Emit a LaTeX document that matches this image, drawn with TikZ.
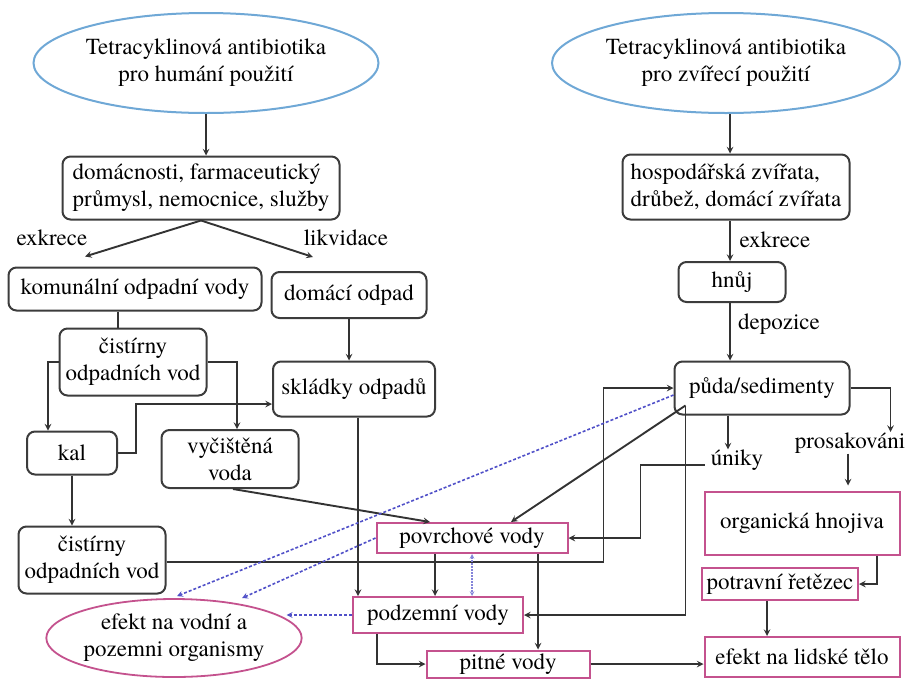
\documentclass[tikz,border=0pt]{standalone}
\usepackage{fontspec}
\setmainfont{texgyretermes-regular.otf}
\usepackage{tikz}
\usetikzlibrary{shapes.geometric}
\usepackage{xcolor}

\definecolor{boxgray}{HTML}{3C3C3C}
\definecolor{arrgray}{HTML}{333333}
\definecolor{pinkline}{HTML}{C4528E}
\definecolor{ellblue}{HTML}{6FA8D6}
\definecolor{dashblue}{HTML}{5050C8}

\begin{document}
\begin{tikzpicture}[x=1pt, y=-1pt, >=stealth,
    txt/.style={font=\rmfamily\fontsize{23}{27}\selectfont, inner sep=0pt, align=center},
    box/.style={txt, draw=boxgray, line width=2pt, rounded corners=8pt},
    pbox/.style={txt, draw=pinkline, line width=2pt},
    blueell/.style={txt, ellipse, draw=ellblue, line width=2pt},
    pinkell/.style={txt, ellipse, draw=pinkline, line width=1.8pt},
    arr/.style={->, line width=1.9pt, draw=arrgray},
    link/.style={line width=1.9pt, draw=arrgray},
    bluedash/.style={->, line width=1.6pt, draw=dashblue, dash pattern=on 3pt off 2pt}]

    \useasboundingbox (0,0) rectangle (909,678);

    % Sources
    \node[blueell, minimum width=345pt, minimum height=100pt] at (206,63) (hum) {Tetracyklinová antibiotika\\pro humání použití};
    \node[blueell, minimum width=348pt, minimum height=100pt] at (726,63) (ani) {Tetracyklinová antibiotika\\pro zvířecí použití};

    % Human use branch
    \node[box, align=left, minimum width=277pt, minimum height=63pt] at (201,188) (dom) {domácnosti, farmaceutický\\průmysl, nemocnice, služby};
    \node[txt] at (52,238) (exkr1) {exkrece};
    \node[txt] at (346,238) (likv) {likvidace};
    \node[box, minimum width=253pt, minimum height=43pt] at (135,289) (kom) {komunální odpadní vody};
    \node[box, minimum width=155pt, minimum height=46pt] at (349,295) (dompad) {domácí odpad};
    \node[box, minimum width=147pt, minimum height=67pt] at (133,362) (cist1) {čistírny\\odpadních vod};
    \node[box, minimum width=162pt, minimum height=55pt] at (354,389) (skl) {skládky odpadů};
    \node[box, minimum width=90pt, minimum height=43pt] at (72,453) (kal) {kal};
    \node[box, minimum width=137pt, minimum height=58pt] at (230,459) (vycist) {vyčištěná\\voda};
    \node[box, minimum width=147pt, minimum height=67pt] at (92,560) (cist2) {čistírny\\odpadních vod};

    % Animal use branch
    \node[box, align=left, minimum width=227pt, minimum height=65pt] at (736,187) (hosp) {hospodářská zvířata,\\drůbež, domácí zvířata};
    \node[txt] at (775,240) (exkr2) {exkrece};
    \node[box, minimum width=107pt, minimum height=40pt] at (732,282) (hnuj) {hnůj};
    \node[txt] at (779,324) (depoz) {depozice};
    \node[box, minimum width=175pt, minimum height=53pt] at (762,388) (puda) {půda/sedimenty};
    \node[txt] at (737,460) (unik) {úniky};
    \node[txt] at (850,443) (prosak) {prosakováni};
    \node[pbox, minimum width=195pt, minimum height=63pt] at (802,523) (org) {organická hnojiva};
    \node[pbox, minimum width=156pt, minimum height=32pt] at (780,584) (potr) {potravní řetězec};
    \node[pbox, minimum width=195pt, minimum height=40pt] at (802,657) (telo) {efekt na lidské tělo};

    % Waters and effects
    \node[pbox, minimum width=191pt, minimum height=30pt] at (472,538) (povrch) {povrchové vody};
    \node[pbox, minimum width=170pt, minimum height=36pt] at (438,615) (podz) {podzemní vody};
    \node[pbox, minimum width=163pt, minimum height=27pt] at (508,664) (pitne) {pitné vody};
    \node[pinkell, minimum width=255pt, minimum height=78pt] at (174,638) (vodorg) {efekt na vodní a\\pozemni organismy};

    % Human use arrows
    \draw[arr] (hum.south) -- (hum.south |- dom.north);
    \draw[arr] (dom.south) -- ([xshift=-50pt,yshift=10pt]kom.north);
    \draw[arr] (dom.south) -- ([xshift=-36pt,yshift=14pt]dompad.north);
    \draw[link] ([xshift=-17pt]kom.south) -- ([xshift=-17pt]kom.south |- cist1.north);
    \draw[arr] (dompad.south) -- (dompad.south |- skl.north);
    \draw[arr] (cist1.west) -| ([xshift=-24pt]kal.north);
    \draw[arr] (cist1.east) -| ([xshift=7pt]vycist.north);
    \draw[arr] (kal.east) -- ++(18,0) |- ([yshift=-15pt]skl.west);
    \draw[arr] (kal.south) -- (kal.south |- cist2.north);
    \draw[arr] ([yshift=-2pt]cist2.east) -| ([xshift=-70pt]puda.west) -- (puda.west);
    \draw[arr] ([xshift=3pt]vycist.south) -- ([xshift=-42pt]povrch.north);
    \draw[arr] ([xshift=4pt]skl.south) -- ([xshift=4pt]skl.south |- podz.north);

    % Animal use arrows
    \draw[arr] ([xshift=4pt]ani.south) -- ([xshift=4pt]ani.south |- hosp.north);
    \draw[arr] ([xshift=-6pt]hosp.south) -- ([xshift=-6pt]hosp.south |- hnuj.north);
    \draw[arr] ([xshift=-2pt]hnuj.south) -- ([xshift=-2pt]hnuj.south |- puda.north);
    \draw[arr] (puda.east) -| ++(40,44);
    \draw[arr] ([xshift=-34pt]puda.south) -- ([xshift=-9pt]unik.north);
    \draw[arr] ([xshift=-6pt,yshift=-5pt]unik.west) -| ([xshift=72pt]povrch.east) -- (povrch.east);
    \draw[arr, shorten >=5pt] ([xshift=-2pt]prosak.south) -- ([xshift=-2pt]prosak.south |- org.north);
    \draw[arr] ([xshift=75pt]org.south) |- (potr.east);
    \draw[arr] ([xshift=-13pt]potr.south) -- ([xshift=-13pt]potr.south |- telo.north);
    \coordinate (pudain) at ([xshift=12pt,yshift=10pt]puda.south west);
    \draw[arr] (pudain) -- ([xshift=39pt]povrch.north);
    \draw[arr] (pudain) |- (podz.east);

    % Water arrows
    \draw[arr] ([xshift=-37pt]povrch.south) -- ([xshift=-37pt]povrch.south |- podz.north);
    \draw[<->, line width=1.1pt, draw=dashblue!70, dash pattern=on 2pt off 1pt] (povrch.south) -- (povrch.south |- podz.north);
    \draw[arr] ([xshift=66pt]povrch.south) -- ([xshift=66pt]povrch.south |- pitne.north);
    \draw[arr] ([xshift=-61pt]podz.south) |- (pitne.west);
    \draw[arr] (pitne.east) -- (pitne.east -| telo.west);

    % Effects on organisms
    \draw[bluedash] ([yshift=-7pt]puda.west) -- ([xshift=3pt,yshift=2pt]vodorg.north);
    \draw[bluedash] (povrch.west) -- ([xshift=68pt]vodorg.north);
    \draw[bluedash] (podz.west) -- ([xshift=-16pt]vodorg.east |- podz.west);

\end{tikzpicture}
\end{document}
